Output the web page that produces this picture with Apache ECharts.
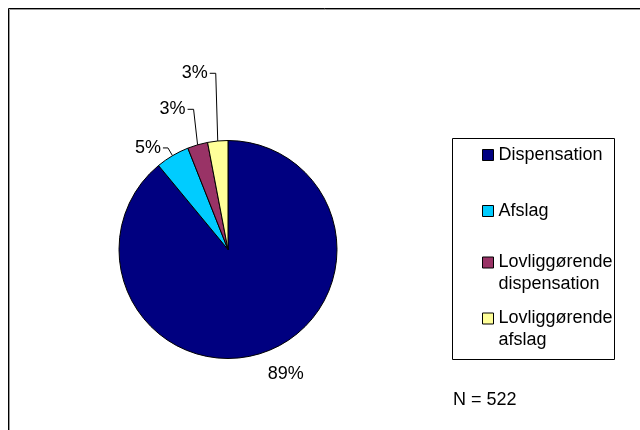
<!DOCTYPE html>
<html><head><meta charset="utf-8">
<script src="https://cdn.jsdelivr.net/npm/echarts@6/dist/echarts.min.js"></script>
<style>html,body{margin:0;padding:0;background:#fff}#c{width:640px;height:430px}</style>
</head><body><div id="c"></div>
<script>
// ---- data ----
const categories = ['Dispensation', 'Afslag', 'Lovliggørende dispensation', 'Lovliggørende afslag'];
const values = [89, 5, 3, 3];          // percent
const sampleSize = 522;

// ---- styles ----
const colors = ['#000080', '#00CCFF', '#993366', '#FFFF99'];
const FONT = "'Liberation Sans', Arial, sans-serif";
const lineStyles = [
  { show: false, length: 23, length2: 0, dist: -5, shift: null, h: 0 },
  { show: true, length: 9, length2: 4, dist: 2, shift: null, h: 5 },
  { show: true, length: 37, length2: 2, dist: 2, shift: -4, h: 6 },
  { show: true, length: 68, length2: 4, dist: 2, shift: -2, h: 6 }
];
const legendTops = [144, 200, 229.5, 285.5];

const chart = echarts.init(document.getElementById('c'), null, { renderer: 'canvas' });

const pieData = categories.map((name, i) => ({
  name: name,
  value: values[i],
  itemStyle: { color: colors[i] },
  label: { distanceToLabelLine: lineStyles[i].dist },
  labelLine: { show: lineStyles[i].show, length: lineStyles[i].length, length2: lineStyles[i].length2 }
}));

const legends = categories.map((name, i) => {
  const multi = name.indexOf(' ') >= 0;
  return {
    data: [name],
    orient: 'vertical',
    left: 482,
    top: legendTops[i],
    padding: 0,
    itemWidth: 11,
    itemHeight: 11,
    itemGap: 0,
    icon: 'rect',
    selectedMode: false,
    itemStyle: { borderColor: '#000', borderWidth: 1 },
    formatter: n => multi ? '\u00a0\n' + n.replace(' ', '\n') : n,
    textStyle: { fontFamily: FONT, fontSize: 18, color: '#000', lineHeight: 22 }
  };
});

chart.setOption({
  animation: false,
  backgroundColor: '#fff',
  title: {
    text: 'N = ' + sampleSize,
    left: 453, top: 391, padding: 0,
    textStyle: { fontFamily: FONT, fontSize: 18, fontWeight: 'normal', color: '#000' }
  },
  legend: legends,
  graphic: [
    { type: 'rect', silent: true, shape: { x: 8.5, y: 8.5, width: 700, height: 500 },
      style: { fill: 'none', stroke: '#000', lineWidth: 1 } },
    { type: 'rect', silent: true, shape: { x: 9.5, y: 9.5, width: 700, height: 500 },
      style: { fill: 'none', stroke: '#999', lineWidth: 1 } },
    { type: 'rect', silent: true, shape: { x: 452.5, y: 138.5, width: 162, height: 221 },
      style: { fill: 'none', stroke: '#000', lineWidth: 1 } }
  ],
  series: [{
    type: 'pie',
    center: [228, 249.5],
    radius: 109,
    startAngle: 90,
    clockwise: true,
    avoidLabelOverlap: false,
    emphasis: { disabled: true },
    itemStyle: { borderColor: '#000', borderWidth: 1 },
    label: {
      show: true, position: 'outside',
      formatter: p => p.value + '%',
      fontFamily: FONT, fontSize: 18, color: '#000'
    },
    labelLine: { lineStyle: { color: '#000', width: 1 }, smooth: false },
    labelLayout: function (params) {
      const s = lineStyles[params.dataIndex];
      const pts = params.labelLinePoints;
      if (!s.show || !pts || pts.length < 3) return {};
      const p0 = pts[0], p1 = pts[1];
      const vx = s.shift == null ? p1[0] : p0[0] + s.shift;
      const vy = p1[1];
      const ex = vx - s.h;
      return {
        x: ex - 2, y: vy, align: 'right', verticalAlign: 'middle',
        labelLinePoints: [[p0[0], p0[1]], [vx, vy], [ex, vy]]
      };
    },
    data: pieData
  }]
});
</script>
</body></html>
